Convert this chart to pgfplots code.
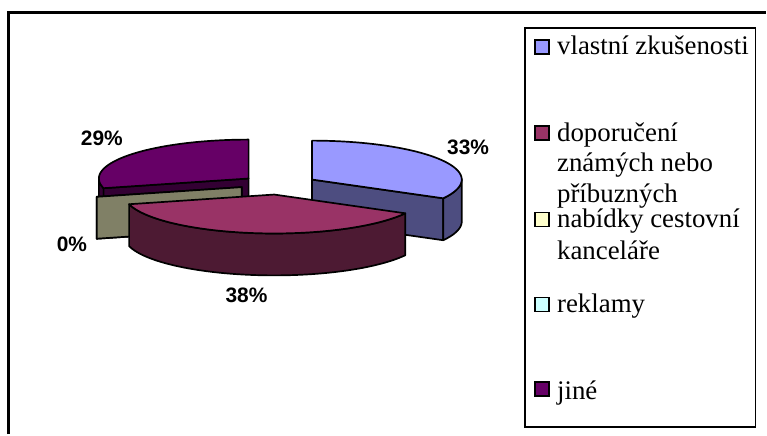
\documentclass[border=0pt]{standalone}
\usepackage{pgfplots}
\pgfplotsset{compat=1.18}
\usepackage{pgfplotstable}
\usepackage{fontspec}
\setmainfont{Liberation Serif}
\newfontfamily\labelfont{Liberation Sans}

\definecolor{blueTop}{HTML}{9999FF}
\definecolor{blueSide}{HTML}{4D4D80}
\definecolor{redTop}{HTML}{993366}
\definecolor{redSide}{HTML}{4D1A33}
\definecolor{purTop}{HTML}{660066}
\definecolor{purSide}{HTML}{330033}
\definecolor{nabTop}{HTML}{FFFFCC}
\definecolor{nabSide}{HTML}{808066}
\definecolor{rekTop}{HTML}{CCFFFF}
\definecolor{rekSide}{HTML}{668080}

\pgfplotstableread{
label value
vlastni 33
doporuceni 38
nabidky 0
reklamy 0
jine 29
}\piedata

\pgfplotstablegetelem{0}{value}\of\piedata \let\vA\pgfplotsretval
\pgfplotstablegetelem{1}{value}\of\piedata \let\vB\pgfplotsretval
\pgfplotstablegetelem{2}{value}\of\piedata \let\vC\pgfplotsretval
\pgfplotstablegetelem{3}{value}\of\piedata \let\vD\pgfplotsretval
\pgfplotstablegetelem{4}{value}\of\piedata \let\vE\pgfplotsretval

% geometry (pixel units)
\def\Cx{279.5}\def\Cy{185}\def\Dx{38.5}
\def\Rx{150}\def\Ry{39}\def\Ht{42}
\pgfmathsetmacro\K{\Ry/\Rx}

% slice angles (clockwise from 12 o'clock)
\pgfmathsetmacro\aA{90}
\pgfmathsetmacro\aB{\aA-3.6*\vA}
\pgfmathsetmacro\aC{\aB-3.6*\vB}
\pgfmathsetmacro\aD{\aC-3.6*\vC}
\pgfmathsetmacro\aE{\aD-3.6*\vD}
\pgfmathsetmacro\aF{\aE-3.6*\vE}
% apexes of exploded slices
\pgfmathsetmacro\Ax{\Cx+\Dx*cos((\aA+\aB)/2)}\pgfmathsetmacro\Ay{\Cy-\Dx*\K*sin((\aA+\aB)/2)}
\pgfmathsetmacro\Bx{\Cx+\Dx*cos((\aB+\aC)/2)}\pgfmathsetmacro\By{\Cy-\Dx*\K*sin((\aB+\aC)/2)}
\pgfmathsetmacro\Nx{\Cx+\Dx*cos((\aC+\aD)/2)}\pgfmathsetmacro\Ny{\Cy-\Dx*\K*sin((\aC+\aD)/2)}
\pgfmathsetmacro\Mx{\Cx+\Dx*cos((\aD+\aE)/2)}\pgfmathsetmacro\My{\Cy-\Dx*\K*sin((\aD+\aE)/2)}
\pgfmathsetmacro\Ex{\Cx+\Dx*cos((\aE+\aF)/2)}\pgfmathsetmacro\Ey{\Cy-\Dx*\K*sin((\aE+\aF)/2)}

\tikzset{pieedge/.style={draw=black,line width=1.7bp,line join=round}}

% top face: colour, apex x, apex y, start angle, end angle (end<start)
\newcommand\slicetop[5]{%
 \addplot[fill=#1,pieedge,domain=#5:#4,samples=90,variable=\t]
  ({#2+\Rx*cos(\t)},{#3-\Ry*sin(\t)}) -- (axis cs:#2,#3) -- cycle;}
% outer rim face between two angles
\newcommand\slicerim[5]{%
 \addplot[fill=#1,pieedge,domain=0:3,samples=181,variable=\t]
  ({#2+\Rx*cos(#4+(#5-(#4))*(min(\t,1)-max(\t-2,0)))},
   {#3-\Ry*sin(#4+(#5-(#4))*(min(\t,1)-max(\t-2,0)))+\Ht*min(max(\t-1,0),1)}) -- cycle;}
% radial cut face
\newcommand\radial[4]{%
 \pgfmathsetmacro\rpx{#2+\Rx*cos(#4)}\pgfmathsetmacro\rpy{#3-\Ry*sin(#4)}%
 \pgfmathsetmacro\rpyb{\rpy+\Ht}\pgfmathsetmacro\ayb{#3+\Ht}%
 \addplot[fill=#1,pieedge] coordinates {(#2,#3) (\rpx,\rpy) (\rpx,\rpyb) (#2,\ayb)} -- cycle;}

\begin{document}
\begin{tikzpicture}
\begin{axis}[
  scale only axis, width=767bp, height=435bp,
  xmin=0, xmax=767, ymin=0, ymax=435, y dir=reverse,
  hide axis, clip=false,
]
\path (axis cs:0,0) rectangle (axis cs:767,435);
% outer frame
\draw[line width=3bp] (axis cs:9,435) -- (axis cs:9,13) -- (axis cs:767,13);

% jine (back left)
\slicerim{purSide}{\Ex}{\Ey}{\aE}{-180}
\radial{purSide}{\Ex}{\Ey}{\aE}
\slicetop{purTop}{\Ex}{\Ey}{\aE}{\aF}
% zero slices
\radial{rekSide}{\Mx}{\My}{\aD}
\radial{nabSide}{\Nx}{\Ny}{\aC}
% vlastni zkusenosti
\radial{blueSide}{\Ax}{\Ay}{\aB}
\slicerim{blueSide}{\Ax}{\Ay}{0}{\aB}
\slicetop{blueTop}{\Ax}{\Ay}{\aA}{\aB}
% doporuceni
\slicerim{redSide}{\Bx}{\By}{\aB}{\aC}
\slicetop{redTop}{\Bx}{\By}{\aB}{\aC}

% percentage labels
\begin{scope}[every node/.style={font=\fontsize{21}{25}\selectfont\labelfont\bfseries, inner sep=0pt}]
\node at (axis cs:469,148) {33\%};
\node at (axis cs:247,296) {38\%};
\node at (axis cs:72,245) {0\%};
\node at (axis cs:102,139) {29\%};
\end{scope}

% legend
\draw[line width=1.7bp] (axis cs:526,28) rectangle (axis cs:757,428);
\begin{scope}[every node/.style={font=\fontsize{27}{32}\selectfont, inner sep=0pt, anchor=base west}]
\draw[line width=1.7bp, fill=blueTop] (axis cs:536,40) rectangle (axis cs:550,54);
\node at (axis cs:558,55) {vlastní zkušenosti};
\draw[line width=1.7bp, fill=redTop] (axis cs:536,126) rectangle (axis cs:550,140);
\node at (axis cs:558,142) {doporučení};
\node at (axis cs:558,172) {známých nebo};
\node at (axis cs:558,203) {příbuzných};
\draw[line width=1.7bp, fill=nabTop] (axis cs:536,213) rectangle (axis cs:550,227);
\node at (axis cs:558,228) {nabídky cestovní};
\node at (axis cs:558,260) {kanceláře};
\draw[line width=1.7bp, fill=rekTop] (axis cs:536,298) rectangle (axis cs:550,312);
\node at (axis cs:558,313) {reklamy};
\draw[line width=1.7bp, fill=purTop] (axis cs:536,383) rectangle (axis cs:550,397);
\node at (axis cs:558,400) {jiné};
\end{scope}
\end{axis}
\end{tikzpicture}
\end{document}
